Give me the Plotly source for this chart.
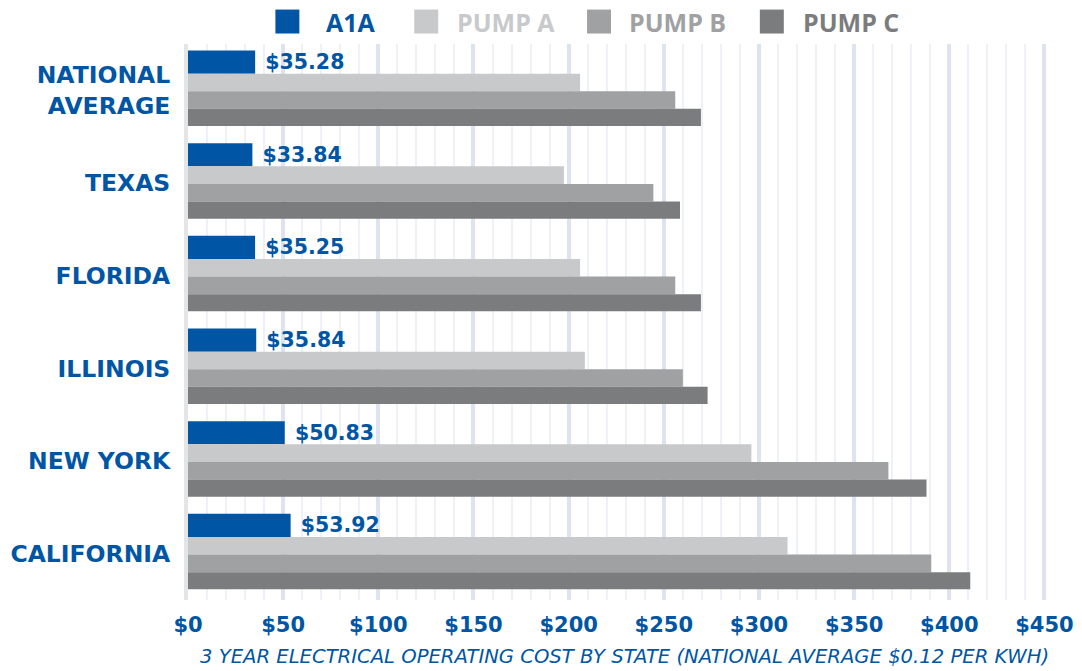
import plotly.graph_objects as go

categories = ["NATIONAL<br>AVERAGE", "TEXAS", "FLORIDA", "ILLINOIS", "NEW YORK", "CALIFORNIA"]
a1a = [35.28, 33.84, 35.25, 35.84, 50.83, 53.92]
pump_a = [206, 197.5, 206, 208.5, 296, 315]
pump_b = [256, 244.5, 256, 260, 368, 390.5]
pump_c = [269.5, 258.5, 269.5, 273, 388, 411]
series_names = ["A1A", "PUMP A", "PUMP B", "PUMP C"]
x_ticks = [0, 50, 100, 150, 200, 250, 300, 350, 400, 450]
x_tick_text = ["$" + str(v) for v in x_ticks]
axis_title = "3 YEAR ELECTRICAL OPERATING COST BY STATE (NATIONAL AVERAGE $0.12 PER KWH)"

BLUE = "#0056a4"
COLORS = ["#0056a4", "#c8c9cb", "#a0a1a3", "#7b7c7e"]
HEAVY = "DejaVu Sans"

ML, MR, MT, MB = 187.5, 27.5, 43.5, 70.5
PW = 1082 - ML - MR
PH = 671 - MT - MB

fig = go.Figure()
series = [a1a, pump_a, pump_b, pump_c]
offsets = [-0.43, -0.18, 0.01, 0.20]
widths = [0.25, 0.19, 0.19, 0.185]
for i, (name, vals) in enumerate(zip(series_names, series)):
    kw = {}
    if i == 0:
        kw = dict(
            texttemplate="\u00a0$%{x:.2f}",
            textposition="outside",
            textfont=dict(family=HEAVY, size=20.5, color=BLUE, weight=700),
            constraintext="none",
            cliponaxis=False,
        )
    fig.add_trace(go.Bar(
        y=categories, x=vals, name=name, orientation="h",
        marker=dict(color=COLORS[i], line=dict(width=0)),
        offset=offsets[i], width=widths[i], showlegend=False, **kw
    ))

# legend built from shapes + annotations (pixel positions converted to paper coords)
leg_sq_x = [275, 414, 587, 760]
leg_txt_x = [324, 455, 627, 801]
def px(x):
    return (x - ML) / PW
def py(y):
    return (671 - MB - y) / PH
shapes = []
annotations = []
for i, name in enumerate(series_names):
    shapes.append(dict(type="rect", xref="paper", yref="paper",
                       x0=px(leg_sq_x[i]), x1=px(leg_sq_x[i] + 24),
                       y0=py(33), y1=py(9),
                       fillcolor=COLORS[i], line=dict(width=0), layer="above"))
    annotations.append(dict(xref="paper", yref="paper",
                            x=px(leg_txt_x[i]), y=py(21),
                            xanchor="left", yanchor="middle", showarrow=False,
                            text=name,
                            font=dict(family="Open Sans", size=25, color=COLORS[i], weight=700)))
annotations.append(dict(xref="paper", yref="paper", x=px(625), y=py(657),
                        xanchor="center", yanchor="middle", showarrow=False,
                        text=axis_title,
                        font=dict(family="DejaVu Sans", size=19.6, color=BLUE, style="italic")))

fig.update_layout(
    width=1082, height=671,
    margin=dict(l=ML, r=MR, t=MT, b=MB),
    paper_bgcolor="white", plot_bgcolor="white",
    barmode="overlay",
    shapes=shapes, annotations=annotations,
    xaxis=dict(
        range=[0, 455], automargin=False,
        tickvals=x_ticks, ticktext=x_tick_text,
        tickfont=dict(family=HEAVY, size=21, color=BLUE, weight=700),
        showgrid=True, gridcolor="#dde3f1", gridwidth=4,
        minor=dict(dtick=10, showgrid=True, gridcolor="#eef1f8", gridwidth=2),
        zeroline=False, showline=False, ticks="",
        ticklabelstandoff=10,
    ),
    yaxis=dict(
        autorange=False, automargin=False,
        range=[5.5, -0.5],
        showgrid=False, zeroline=False,
        showline=True, linecolor="#e4e5e7", linewidth=4,
        ticks="", ticklabelstandoff=9,
        tickfont=dict(family=HEAVY, size=23.5, color=BLUE, weight=700),
    ),
)

fig.write_html("out.html", config={"displayModeBar": False},
               post_script="document.body.style.margin='0';document.body.style.overflow='hidden';")
